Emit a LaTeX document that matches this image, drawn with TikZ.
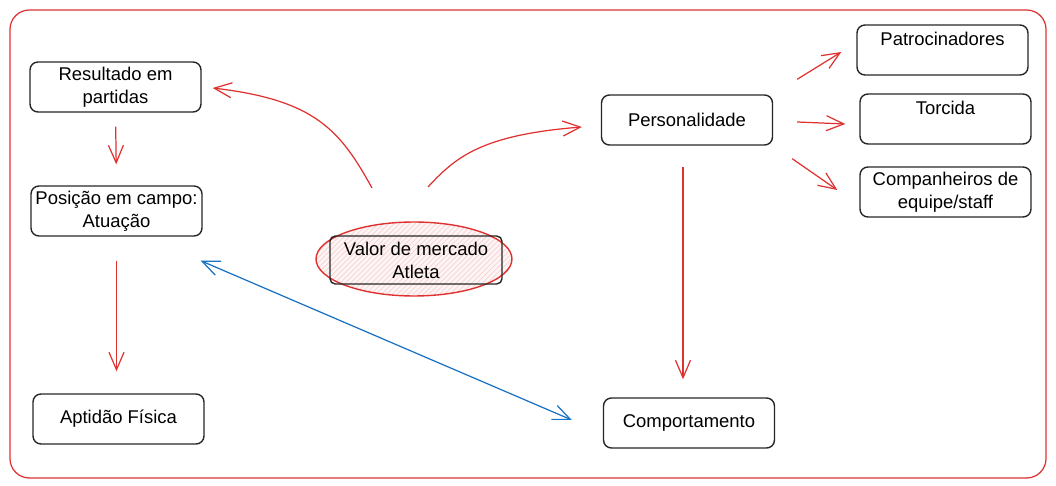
\documentclass[tikz,border=0pt]{standalone}
\usepackage{fontspec}
\setmainfont{Liberation Sans}
\usetikzlibrary{patterns,shapes.geometric,arrows.meta,calc}
\definecolor{exred}{HTML}{E03131}
\definecolor{exblue}{HTML}{1971C2}
\tikzset{
    bloc/.style={draw=black!85, line width=0.8pt, rounded corners=4.5pt, minimum width=3.42cm, minimum height=1cm, inner sep=2pt, align=center, font=\fontsize{10.5}{13}\selectfont},
    fleche/.style={->, draw=exred, line width=0.7pt},
}
\begin{document}
\begin{tikzpicture}[x=0.02cm, y=-0.02cm, >={Straight Barb[length=3.5mm,width=3mm]}]
        \useasboundingbox (0,0) rectangle (1056,486);
        % cadre
        \draw[exred, line width=0.7pt, rounded corners=11pt] (10,10) rectangle (1046,478);

        % colonne gauche
        \node[bloc] (res) at (115.5,87) {Resultado em\\partidas};
        \node[bloc] (pos) at (116.5,211) {Posição em campo:\\Atuação};
        \node[bloc] (apt) at (118.5,419) {Aptidão Física};

        % centre
        \node[draw=exred, line width=0.8pt, ellipse, minimum width=3.92cm, minimum height=1.48cm,
              preaction={fill=exred!5}, pattern=north east lines, pattern color=exred!22] (ell) at (414,259) {};
        \node[bloc, rounded corners=3pt, minimum width=3.44cm, minimum height=0.96cm] (valor) at (416,260) {Valor de mercado\\Atleta};

        % colonne droite
        \node[bloc] (pers) at (687,120) {Personalidade};
        \node[bloc] (comp) at (689,423) {Comportamento};
        \node[bloc] (patr) at (942.5,50) {Patrocinadores\\~};
        \node[bloc] (torc) at (945.5,119) {Torcida\\~};
        \node[bloc] (equipe) at (945.5,192) {Companheiros de\\equipe/staff};

        % fleches
        \coordinate (v1) at (372,188);
        \coordinate (v2) at (428,187);
        \draw[fleche] (v1) .. controls (340,130) and (315,100) .. ($(res.east)+(11,1)$);
        \draw[fleche] (v2) .. controls (455,158) and (480,135) .. ($(pers.west)+(-19,7)$);
        \draw[fleche, shorten <=0.28cm, shorten >=0.42cm] (res.south) -- (pos.north);
        \draw[fleche, shorten <=0.48cm, shorten >=0.44cm] (pos.south) -- (apt.north -| pos.south);
        \draw[fleche, shorten <=0.42cm, shorten >=0.36cm] ($(pers.south)+(-4,0)$) -- ($(pers.south |- comp.north)+(-4,0)$);
        \draw[<->, exblue, line width=0.7pt] ($(pos.south east)+(-2,24)$) -- ($(comp.west)+(-31,-3)$);
        \draw[fleche] ($(pers.north east)+(24,-15)$) -- ($(patr.west)+(-15,2)$);
        \draw[fleche] ($(pers.east)+(24,2)$) -- ($(torc.west)+(-14,5)$);
        \draw[fleche] ($(pers.south east)+(19,13)$) -- ($(equipe.west)+(-22,-2)$);
    \end{tikzpicture}
\end{document}
